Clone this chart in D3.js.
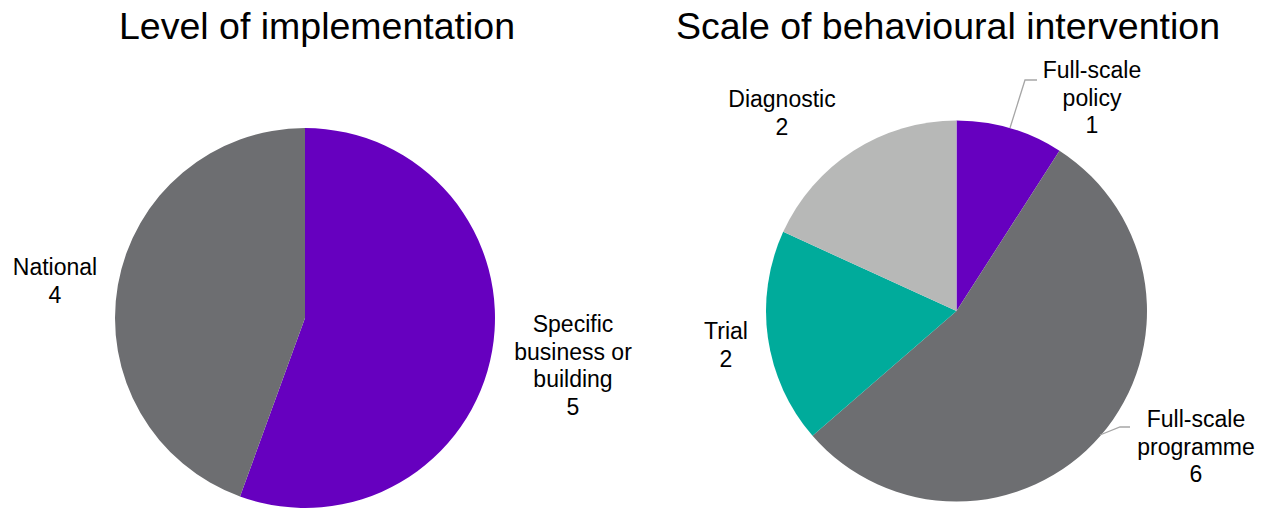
<!DOCTYPE html>
<html>
<head>
<meta charset="utf-8">
<script src="https://cdn.jsdelivr.net/npm/d3@7"></script>
<style>
  html, body { margin: 0; padding: 0; background: #fff; }
  svg { display: block; }
  text { font-family: "Liberation Sans", Arial, sans-serif; fill: #000; }
</style>
</head>
<body>
<svg id="chart" width="1267" height="508"></svg>
<script>
// Data
const levelCategories = ["Specific business or building", "National"];
const levelValues = [5, 4];
const scaleCategories = ["Full-scale policy", "Full-scale programme", "Trial", "Diagnostic"];
const scaleValues = [1, 6, 2, 2];
const titles = ["Level of implementation", "Scale of behavioural intervention"];

const colors = {
  "Specific business or building": "#6600BF",
  "National": "#6D6E71",
  "Full-scale policy": "#6600BF",
  "Full-scale programme": "#6D6E71",
  "Trial": "#00AB9B",
  "Diagnostic": "#B7B8B7"
};

// label layout (display lines, center, first baseline)
const labelLines = {
  "Specific business or building": ["Specific", "business or", "building"],
  "National": ["National"],
  "Full-scale policy": ["Full-scale", "policy"],
  "Full-scale programme": ["Full-scale", "programme"],
  "Trial": ["Trial"],
  "Diagnostic": ["Diagnostic"]
};
const labelPos = {
  "Specific business or building": [573, 332],
  "National": [55, 275],
  "Full-scale policy": [1092, 78],
  "Full-scale programme": [1196, 427],
  "Trial": [726, 339],
  "Diagnostic": [782, 107]
};
const leaders = {
  "Full-scale policy": [[1010, 128], [1025, 80], [1037, 80]],
  "Full-scale programme": [[1100, 435], [1120, 427], [1130, 427]]
};

const svg = d3.select("#chart");
const lineH = 27.6;

function drawPie(cats, vals, cx, cy, r, title, titleX) {
  const g = svg.append("g").attr("transform", `translate(${cx},${cy})`);
  const data = cats.map((c, i) => ({ cat: c, value: vals[i] }));
  const pie = d3.pie().value(d => d.value).sort(null);
  const arc = d3.arc().innerRadius(0).outerRadius(r);
  g.selectAll("path").data(pie(data)).join("path")
    .attr("d", arc)
    .attr("fill", d => colors[d.data.cat]);

  svg.append("text")
    .attr("x", titleX).attr("y", 39)
    .attr("text-anchor", "middle")
    .attr("font-size", 37.5)
    .text(title);

  data.forEach(d => {
    const [lx, ly] = labelPos[d.cat];
    const lines = labelLines[d.cat].concat([String(d.value)]);
    const t = svg.append("text")
      .attr("text-anchor", "middle")
      .attr("font-size", 23);
    lines.forEach((ln, i) => {
      t.append("tspan").attr("x", lx).attr("y", ly + i * lineH).text(ln);
    });
    if (leaders[d.cat]) {
      svg.append("path")
        .attr("d", d3.line()(leaders[d.cat]))
        .attr("fill", "none")
        .attr("stroke", "#A6A6A6")
        .attr("stroke-width", 1.3);
    }
  });
}

drawPie(levelCategories, levelValues, 305, 318, 190, titles[0], 317);
drawPie(scaleCategories, scaleValues, 956.5, 311, 190.5, titles[1], 948);
</script>
</body>
</html>
